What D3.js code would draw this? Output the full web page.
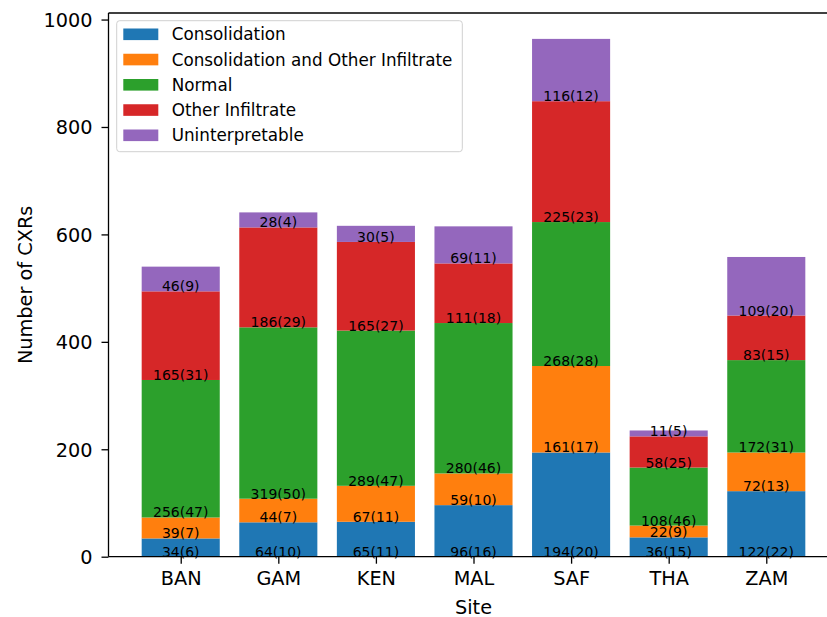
<!DOCTYPE html>
<html>
<head>
<meta charset="utf-8">
<script src="https://cdn.jsdelivr.net/npm/d3@7"></script>
<style>
  html, body { margin: 0; padding: 0; background: #fff; }
  svg { display: block; font-family: "DejaVu Sans", sans-serif; }
</style>
</head>
<body>
<svg id="chart" width="827" height="617"></svg>
<script>
// Sites along the x axis
const sites = ["BAN", "GAM", "KEN", "MAL", "SAF", "THA", "ZAM"];

// CXR classification categories (stacking order, bottom to top)
const categories = [
  "Consolidation",
  "Consolidation and Other Infiltrate",
  "Normal",
  "Other Infiltrate",
  "Uninterpretable"
];
const colors = ["#1f77b4", "#ff7f0e", "#2ca02c", "#d62728", "#9467bd"];

// Number of CXRs per category, one value per site
const consolidation        = [34, 64, 65, 96, 194, 36, 122];
const consolidationOther   = [39, 44, 67, 59, 161, 22, 72];
const normal               = [256, 319, 289, 280, 268, 108, 172];
const otherInfiltrate      = [165, 186, 165, 111, 225, 58, 83];
const uninterpretable      = [46, 28, 30, 69, 116, 11, 109];

// Bracketed counts shown next to each value
const consolidationN       = [6, 10, 11, 16, 20, 15, 22];
const consolidationOtherN  = [7, 7, 11, 10, 17, 9, 13];
const normalN              = [47, 50, 47, 46, 28, 46, 31];
const otherInfiltrateN     = [31, 29, 27, 18, 23, 25, 15];
const uninterpretableN     = [9, 4, 5, 11, 12, 5, 20];

const yTicks = [0, 200, 400, 600, 800, 1000];

const seriesValues = [consolidation, consolidationOther, normal, otherInfiltrate, uninterpretable];
const seriesCounts = [consolidationN, consolidationOtherN, normalN, otherInfiltrateN, uninterpretableN];

(function draw() {
  // Build rows for d3.stack
  const rows = sites.map((s, i) => {
    const r = { site: s, idx: i };
    categories.forEach((c, k) => { r[c] = seriesValues[k][i]; });
    return r;
  });
  const stacked = d3.stack().keys(categories)(rows);

  const svg = d3.select("#chart");

  // Plot area (right edge runs past the visible canvas)
  const pLeft = 108.5, pRight = 838.5, pTop = 13, pBottom = 556.7;
  const maxTotal = d3.max(rows, r => d3.sum(categories, c => r[c]));

  const x = d3.scaleLinear().domain([-0.74, sites.length - 1 + 0.74]).range([pLeft, pRight]);
  const y = d3.scaleLinear().domain([0, maxTotal * 1.05]).range([pBottom, pTop]);
  const barW = x(0.8) - x(0);

  // Bars
  const layer = svg.append("g");
  stacked.forEach((ser, k) => {
    layer.append("g")
      .attr("fill", colors[k])
      .selectAll("rect")
      .data(ser)
      .join("rect")
        .attr("x", d => x(d.data.idx) - barW / 2)
        .attr("width", barW)
        .attr("y", d => y(d[1]))
        .attr("height", d => y(d[0]) - y(d[1]));
  });

  // Value(count) labels sitting on the base of each segment
  const labels = svg.append("g")
    .attr("font-size", "14px")
    .attr("fill", "#000")
    .attr("text-anchor", "middle");
  stacked.forEach((ser, k) => {
    labels.selectAll(null)
      .data(ser)
      .join("text")
        .attr("x", d => x(d.data.idx))
        .attr("y", d => y(d[0]))
        .text(d => `${seriesValues[k][d.data.idx]}(${seriesCounts[k][d.data.idx]})`);
  });

  // Axes
  const xAxis = d3.axisBottom(x)
    .tickValues(d3.range(sites.length))
    .tickFormat(i => sites[i])
    .tickSize(7)
    .tickPadding(8);
  const gx = svg.append("g").attr("transform", `translate(0,${pBottom})`).call(xAxis);
  gx.select(".domain").remove();

  const yAxis = d3.axisLeft(y)
    .tickValues(yTicks)
    .tickFormat(d3.format("d"))
    .tickSize(7)
    .tickPadding(9);
  const gy = svg.append("g").attr("transform", `translate(${pLeft},0)`).call(yAxis);
  gy.select(".domain").remove();

  [gx, gy].forEach(g => {
    g.selectAll("text").attr("font-size", "19.3px").attr("font-family", "DejaVu Sans, sans-serif").attr("fill", "#000");
    g.selectAll("line").attr("stroke", "#000").attr("stroke-width", 1.3);
  });
  gx.selectAll("text").attr("dy", "0.71em");
  gy.selectAll("text").attr("dy", "0.35em");

  // Spines
  const spines = svg.append("g").attr("stroke", "#000").attr("stroke-width", 1.3).attr("fill", "none");
  spines.append("line").attr("x1", pLeft).attr("x2", pLeft).attr("y1", pTop).attr("y2", pBottom);
  spines.append("line").attr("x1", pLeft).attr("x2", pRight).attr("y1", pBottom).attr("y2", pBottom);
  spines.append("line").attr("x1", pLeft).attr("x2", pRight).attr("y1", pTop).attr("y2", pTop);
  spines.append("line").attr("x1", pRight).attr("x2", pRight).attr("y1", pTop).attr("y2", pBottom);

  // Axis titles
  svg.append("text")
    .attr("x", (pLeft + pRight) / 2)
    .attr("y", 613.5)
    .attr("text-anchor", "middle")
    .attr("font-size", "19.3px")
    .text("Site");
  svg.append("text")
    .attr("transform", `translate(31.5,${(pTop + pBottom) / 2}) rotate(-90)`)
    .attr("text-anchor", "middle")
    .attr("font-size", "19.3px")
    .text("Number of CXRs");

  // Legend
  const legend = svg.append("g");
  legend.append("rect")
    .attr("x", 116.7).attr("y", 20.7)
    .attr("width", 345.6).attr("height", 131)
    .attr("rx", 3).attr("ry", 3)
    .attr("fill", "#fff").attr("fill-opacity", 0.8)
    .attr("stroke", "#d0d0d0").attr("stroke-width", 1);
  categories.forEach((c, k) => {
    const cy = 34.3 + k * 25.25;
    legend.append("rect")
      .attr("x", 123.3).attr("y", cy - 5.8)
      .attr("width", 35).attr("height", 11.6)
      .attr("fill", colors[k]);
    legend.append("text")
      .attr("x", 171.7).attr("y", cy)
      .attr("dy", "0.36em")
      .attr("font-size", "16.8px")
      .attr("fill", "#000")
      .text(c);
  });
})();
</script>
</body>
</html>
